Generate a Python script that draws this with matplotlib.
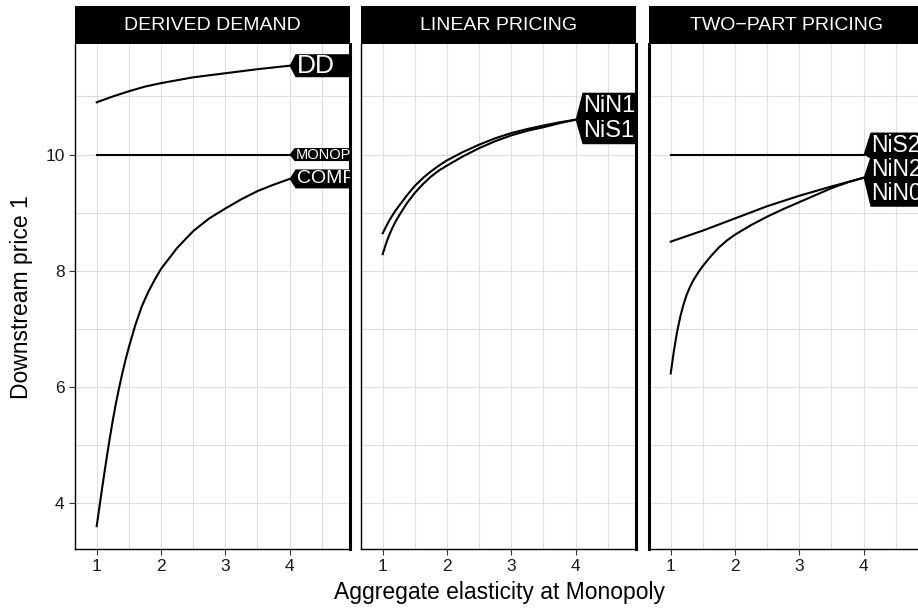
import matplotlib
matplotlib.use('Agg')
import matplotlib.pyplot as plt
from matplotlib.patches import Polygon
from matplotlib.ticker import MultipleLocator

plt.rcParams['font.family'] = ['Liberation Sans', 'DejaVu Sans']

# --- data ---
panel_titles = ['DERIVED DEMAND', 'LINEAR PRICING', 'TWO\u2212PART PRICING']

x_dd = [1.0, 1.25, 1.5, 1.75, 2.0, 2.5, 3.0, 3.5, 4.0]
y_dd = [10.90, 11.00, 11.09, 11.17, 11.23, 11.33, 11.40, 11.47, 11.53]

x_monop = [1.0, 4.0]
y_monop = [10.0, 10.0]

x_comp = [1.0, 1.05, 1.1, 1.15, 1.2, 1.25, 1.3, 1.35, 1.4, 1.45, 1.5, 1.6, 1.7, 1.8,
          1.9, 2.0, 2.25, 2.5, 2.75, 3.0, 3.25, 3.5, 3.75, 4.0]
y_comp = [3.60, 3.99, 4.37, 4.74, 5.09, 5.42, 5.72, 5.99, 6.24, 6.47, 6.68, 7.06, 7.38, 7.63,
          7.84, 8.03, 8.39, 8.68, 8.90, 9.07, 9.23, 9.37, 9.48, 9.58]

x_lin = [1.0, 1.05, 1.1, 1.15, 1.2, 1.25, 1.375, 1.5, 1.625, 1.75, 1.875, 2.0,
         2.25, 2.5, 2.75, 3.0, 3.25, 3.5, 3.75, 4.0]
y_nin1 = [8.645, 8.755, 8.86, 8.95, 9.035, 9.11, 9.295, 9.46, 9.595, 9.71, 9.81, 9.90,
          10.045, 10.17, 10.28, 10.37, 10.44, 10.50, 10.555, 10.60]
y_nis1 = [8.285, 8.46, 8.61, 8.735, 8.845, 8.94, 9.16, 9.34, 9.49, 9.62, 9.725, 9.81,
          9.97, 10.11, 10.23, 10.33, 10.41, 10.47, 10.54, 10.60]

x_nis2 = [1.0, 4.0]
y_nis2 = [10.0, 10.0]

x_nin2 = [1.0, 1.5, 2.0, 2.5, 3.0, 3.5, 4.0]
y_nin2 = [8.50, 8.69, 8.90, 9.11, 9.29, 9.45, 9.60]

x_nin0 = [1.0, 1.05, 1.1, 1.15, 1.2, 1.25, 1.3, 1.35, 1.4, 1.45, 1.5, 1.625, 1.75,
          1.875, 2.0, 2.25, 2.5, 2.75, 3.0, 3.25, 3.5, 3.75, 4.0]
y_nin0 = [6.23, 6.62, 6.95, 7.21, 7.42, 7.59, 7.72, 7.83, 7.92, 8.005, 8.08, 8.25, 8.40,
          8.52, 8.62, 8.785, 8.93, 9.06, 9.18, 9.30, 9.42, 9.52, 9.60]

W, H = 918, 611
fig = plt.figure(figsize=(W / 100, H / 100), dpi=100)


def box(l, t, w, h):
    return [l / W, 1 - (t + h) / H, w / W, h / H]


def tag(ax, x, y, dy, h, size, text, tip=6):
    # directlabels-style polygon: point at line end, box to the right
    px, py = ax.transData.transform((x, y))
    cy = py - dy
    top, bot = cy + h / 2, cy - h / 2
    right = px + 300
    verts = [(px, py), (px + tip, top), (right, top), (right, bot), (px + tip, bot)]
    inv = ax.transData.inverted()
    ax.add_patch(Polygon(inv.transform(verts), closed=True, fc='black', ec='none', zorder=5))
    tx, ty = inv.transform((px + tip + 1, cy))
    ax.text(tx, ty, text, color='white', fontsize=size, ha='left', va='center',
            clip_on=True, zorder=6)


lefts = [75, 361, 649]
axes = []
for i, l in enumerate(lefts):
    ax = fig.add_axes(box(l, 44, 275, 505))
    ax.set_xlim(0.6625, 4.94)
    ax.set_ylim(3.206, 11.904)
    ax.xaxis.set_major_locator(MultipleLocator(1))
    ax.xaxis.set_minor_locator(MultipleLocator(0.5))
    ax.yaxis.set_major_locator(MultipleLocator(2))
    ax.yaxis.set_minor_locator(MultipleLocator(1))
    ax.set_axisbelow(True)
    ax.grid(which='both', color='#dedede', lw=0.8)
    ax.tick_params(which='major', length=4, width=0.8, color='#333333',
                   labelsize=12.5, labelcolor='#1a1a1a', pad=3.5)
    ax.tick_params(which='minor', length=0)
    ax.spines['top'].set_visible(False)
    ax.spines['right'].set_linewidth(2.2)
    ax.spines['left'].set_linewidth(1.0 if i < 2 else 2.2)
    ax.spines['bottom'].set_linewidth(1.0)
    if i > 0:
        ax.tick_params(axis='y', left=False, labelleft=False)
    axes.append(ax)

    st = fig.add_axes(box(l, 6, 275, 38))
    st.set_facecolor('black')
    st.set_xticks([])
    st.set_yticks([])
    for s in st.spines.values():
        s.set_visible(False)
    st.text(0.5, 0.5, panel_titles[i], color='white', fontsize=14,
            ha='center', va='center', transform=st.transAxes)

lw = 1.5
ax1, ax2, ax3 = axes
ax1.plot(x_dd, y_dd, color='black', lw=lw)
ax1.plot(x_monop, y_monop, color='black', lw=lw)
ax1.plot(x_comp, y_comp, color='black', lw=lw)
tag(ax1, x_dd[-1], y_dd[-1], 0, 23, 19, 'DD')
tag(ax1, x_monop[-1], y_monop[-1], 0, 13, 10.5, 'MONOP', tip=5)
tag(ax1, x_comp[-1], y_comp[-1], 0, 19, 14, 'COMP')

ax2.plot(x_lin, y_nin1, color='black', lw=lw)
ax2.plot(x_lin, y_nis1, color='black', lw=lw)
tag(ax2, x_lin[-1], y_nis1[-1], 11, 27, 17, 'NiS1', tip=7)
tag(ax2, x_lin[-1], y_nin1[-1], -13.5, 27, 17, 'NiN1', tip=7)

ax3.plot(x_nis2, y_nis2, color='black', lw=lw)
ax3.plot(x_nin2, y_nin2, color='black', lw=lw)
ax3.plot(x_nin0, y_nin0, color='black', lw=lw)
tag(ax3, x_nin0[-1], y_nin0[-1], 16, 26, 16.5, 'NiN0', tip=7)
tag(ax3, x_nin2[-1], y_nin2[-1], -8, 26, 16.5, 'NiN2', tip=7)
tag(ax3, x_nis2[-1], y_nis2[-1], -9, 26, 16.5, 'NiS2', tip=7)

fig.text(499 / W, 1 - 592 / H, 'Aggregate elasticity at Monopoly', fontsize=16.5,
         ha='center', va='center')
fig.text(22 / W, 1 - 297 / H, 'Downstream price 1', fontsize=16.5, rotation=90,
         ha='center', va='center')

fig.savefig('out.png', dpi=100)
